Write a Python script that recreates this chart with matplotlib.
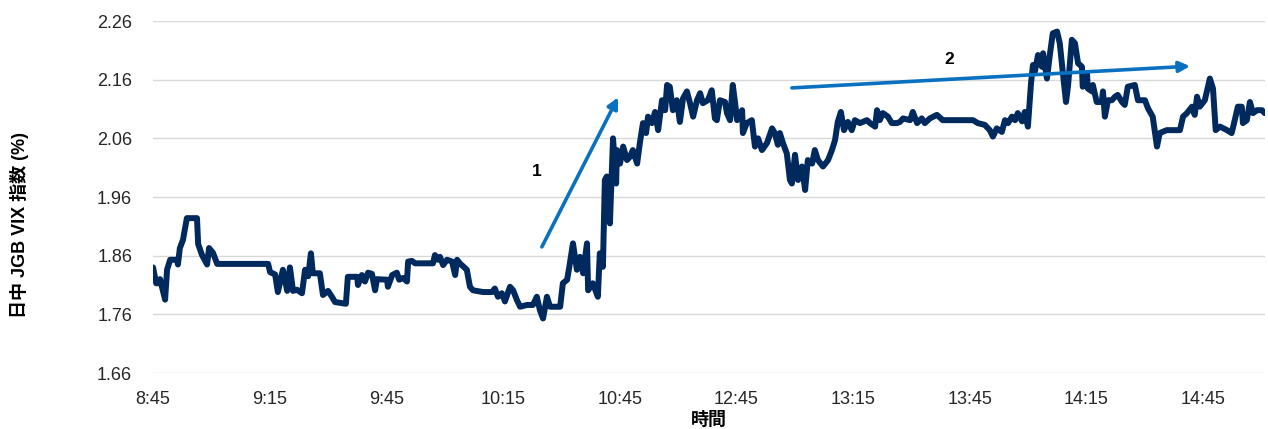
import matplotlib
matplotlib.use("Agg")
import matplotlib.pyplot as plt

plt.rcParams['font.family'] = ['Liberation Sans', 'Noto Sans CJK JP', 'DejaVu Sans']

# x positions in trading minutes from 8:45 (lunch break removed)
times = [0, 0.8, 1.3, 1.8, 3.1, 3.6, 4.4, 6.2, 6.4, 6.9, 7.7, 8.7, 11.3, 11.6, 12.6,
         13.9, 14.4, 15.4, 16.5, 29.6, 30.1, 31.4, 32.1, 33.4, 34.5, 35.2, 36.0, 37.0,
         38.3, 39.1, 39.9, 40.6, 41.1, 42.9, 43.7, 45.0, 46.0, 46.8, 49.6, 50.1,
         52.5, 52.7, 53.7, 54.5, 55.3, 56.3, 57.1, 57.6, 60.2, 60.4, 61.5, 62.7, 63.3,
         64.3, 65.3, 65.6, 66.6, 67.4, 72.0, 72.5, 73.3, 73.8, 74.6, 75.6, 76.9, 77.7,
         78.2, 78.9, 80.7, 81.5, 82.3, 84.9, 87.2, 87.9, 88.7, 89.7, 90.5, 91.8, 92.6,
         93.6, 94.4, 96.2, 97.7, 98.7, 99.5,
         100.3, 101.3, 102.1, 104.7, 105.4, 106.5, 107.2, 108.0, 109.0, 109.8, 110.6,
         111.6, 111.9, 113.1, 114.4, 114.9, 115.7, 116.2, 116.7, 117.5, 118.3, 119.1,
         119.3, 120.1, 120.9, 121.9, 122.7, 123.4, 124.5, 125.2, 126.0, 126.8, 127.3,
         128.3, 129.1, 129.9, 130.9, 131.7, 132.2, 132.9, 133.7, 134.7, 135.5, 136.3,
         137.3, 138.1, 138.9, 139.9, 140.7, 141.4, 142.7, 143.7, 144.5,
         145.0, 145.8, 147.1, 147.6, 148.4, 149.1, 149.7, 150.2, 151.5, 151.7, 152.7,
         154.0, 154.8, 155.6, 156.6, 157.9, 159.2, 159.9, 160.7, 161.2, 162.0, 163.0,
         163.8, 164.3, 165.1, 165.9, 166.9, 167.7, 168.4, 169.5, 170.2, 171.0, 172.3,
         173.6, 174.6, 175.4, 176.1, 176.9, 177.7, 178.7, 179.7, 180.5, 181.8, 183.6,
         184.4, 185.7, 186.2, 186.9, 187.7, 189.0, 190.0,
         191.3, 192.1, 192.9, 194.7, 195.4, 196.5, 197.7, 198.5, 199.8, 201.6, 203.1,
         210.9, 212.1, 213.9, 215.2, 216.0, 217.0, 218.3, 219.1, 219.9, 220.9, 221.7,
         222.4, 223.5, 224.2, 225.0, 225.8, 226.3, 226.8, 227.6, 228.6, 228.9, 229.9,
         230.7, 231.4, 232.5, 233.2, 234.0, 234.8, 235.3, 236.3, 237.1,
         237.9, 238.9, 239.1, 240.2, 240.4, 241.5, 241.7, 242.7, 244.0, 244.3, 244.8,
         245.6, 246.6, 247.4, 248.1, 249.2, 249.9, 250.7, 252.5, 253.3, 255.1, 255.9,
         257.1, 258.2, 258.9, 260.7, 264.1, 264.9, 265.9, 267.2, 267.9, 268.5, 269.2,
         270.5, 271.8, 272.6, 273.3, 274.4, 276.2, 277.4, 278.2, 279.0, 280.0, 280.3,
         281.3, 282.1, 282.9, 283.9, 285.2, 285.9]

vix = [1.840, 1.813, 1.813, 1.820, 1.785, 1.836, 1.853, 1.853, 1.845, 1.873, 1.887,
       1.924, 1.924, 1.880, 1.861, 1.845, 1.873, 1.865, 1.846, 1.846, 1.832, 1.828,
       1.798, 1.836, 1.800, 1.840, 1.800, 1.802, 1.796, 1.836, 1.825, 1.864, 1.830,
       1.830, 1.793, 1.800, 1.790, 1.781, 1.778, 1.824,
       1.824, 1.810, 1.827, 1.816, 1.831, 1.829, 1.801, 1.820, 1.819, 1.807, 1.827,
       1.831, 1.819, 1.822, 1.816, 1.850, 1.851, 1.847, 1.847, 1.861, 1.853, 1.858,
       1.844, 1.853, 1.850, 1.827, 1.853, 1.847, 1.836, 1.807, 1.801, 1.798, 1.798,
       1.804, 1.790, 1.796, 1.782, 1.807, 1.801, 1.784, 1.773, 1.776, 1.776, 1.790,
       1.767,
       1.753, 1.790, 1.773, 1.773, 1.813, 1.819, 1.847, 1.881, 1.836, 1.858, 1.830,
       1.881, 1.801, 1.813, 1.790, 1.864, 1.841, 1.989, 1.995, 1.915, 2.060, 1.983,
       2.040, 2.017, 2.046, 2.023, 2.029, 2.040, 2.017, 2.052, 2.086, 2.069, 2.097,
       2.086, 2.105, 2.074, 2.125, 2.108, 2.151, 2.148, 2.108, 2.125, 2.088, 2.128,
       2.140, 2.120, 2.097, 2.125, 2.137, 2.120, 2.125, 2.142, 2.094,
       2.091, 2.125, 2.122, 2.103, 2.091, 2.151, 2.120, 2.091, 2.108, 2.069, 2.086,
       2.091, 2.046, 2.060, 2.040, 2.052, 2.077, 2.069, 2.049, 2.069, 2.052, 2.034,
       1.989, 1.983, 2.032, 1.989, 2.012, 1.972, 2.023, 2.017, 2.040, 2.023, 2.012,
       2.023, 2.040, 2.057, 2.088, 2.105, 2.074, 2.088, 2.074, 2.091, 2.086, 2.091,
       2.086, 2.080, 2.108, 2.091, 2.103, 2.097, 2.086,
       2.086, 2.088, 2.094, 2.091, 2.105, 2.086, 2.094, 2.086, 2.094, 2.100, 2.091,
       2.091, 2.086, 2.083, 2.074, 2.063, 2.077, 2.071, 2.091, 2.086, 2.097, 2.091,
       2.103, 2.089, 2.105, 2.080, 2.154, 2.185, 2.174, 2.202, 2.182, 2.205, 2.162,
       2.205, 2.239, 2.242, 2.222, 2.171, 2.122, 2.148, 2.228, 2.222,
       2.188, 2.182, 2.148, 2.171, 2.145, 2.140, 2.151, 2.122, 2.122, 2.140, 2.097,
       2.125, 2.125, 2.131, 2.134, 2.122, 2.117, 2.148, 2.151, 2.125, 2.125, 2.111,
       2.097, 2.046, 2.069, 2.074, 2.074, 2.097, 2.103, 2.114, 2.100, 2.131, 2.114,
       2.125, 2.162, 2.145, 2.074, 2.080, 2.074, 2.069, 2.091, 2.114, 2.114, 2.086,
       2.091, 2.122, 2.103, 2.108, 2.108, 2.103]

tick_pos = [0, 30, 60, 90, 120, 150, 180, 210, 240, 270]
tick_labels = ['8:45', '9:15', '9:45', '10:15', '10:45', '12:45', '13:15', '13:45',
               '14:15', '14:45']
y_ticks = [1.66, 1.76, 1.86, 1.96, 2.06, 2.16, 2.26]

navy = '#002a5e'
blue = '#0a70c0'

fig = plt.figure(figsize=(12.68, 4.29), dpi=100)
ax = fig.add_axes([0.1207, 0.1305, 0.877, 0.8205])

ax.plot(times, vix, color=navy, lw=4.3, solid_joinstyle='round', solid_capstyle='round')

# trend arrows
ax.annotate('', xy=(119.6, 2.130), xytext=(100.0, 1.875),
            arrowprops=dict(arrowstyle='-|>', color=blue, lw=2.6, mutation_scale=16,
                            shrinkA=0, shrinkB=0))
ax.annotate('', xy=(266.7, 2.183), xytext=(164.3, 2.146),
            arrowprops=dict(arrowstyle='-|>', color=blue, lw=2.6, mutation_scale=16,
                            shrinkA=0, shrinkB=0))
ax.text(98.7, 2.004, '1', fontsize=12.5, fontweight='bold', ha='center', va='center')
ax.text(204.9, 2.194, '2', fontsize=12.5, fontweight='bold', ha='center', va='center')

ax.set_xlim(0, 286)
ax.set_ylim(1.66, 2.26)
ax.set_xticks(tick_pos)
ax.set_xticklabels(tick_labels)
ax.set_yticks(y_ticks)
ax.set_yticklabels(['%.2f' % v for v in y_ticks])
ax.tick_params(length=0, labelsize=13, labelcolor='#262626')
ax.tick_params(axis='y', pad=15)
ax.tick_params(axis='x', pad=13)
ax.grid(axis='y', color='#d9d9d9', lw=1)
ax.set_axisbelow(True)
for s in ax.spines.values():
    s.set_visible(False)

ax.set_ylabel('日中 JGB VIX 指数 (%)', fontsize=13, fontweight='bold')
ax.yaxis.set_label_coords(-0.1115, 0.42)
ax.set_xlabel('時間', fontsize=13, fontweight='bold', labelpad=3)

fig.savefig('out.png', dpi=100)
